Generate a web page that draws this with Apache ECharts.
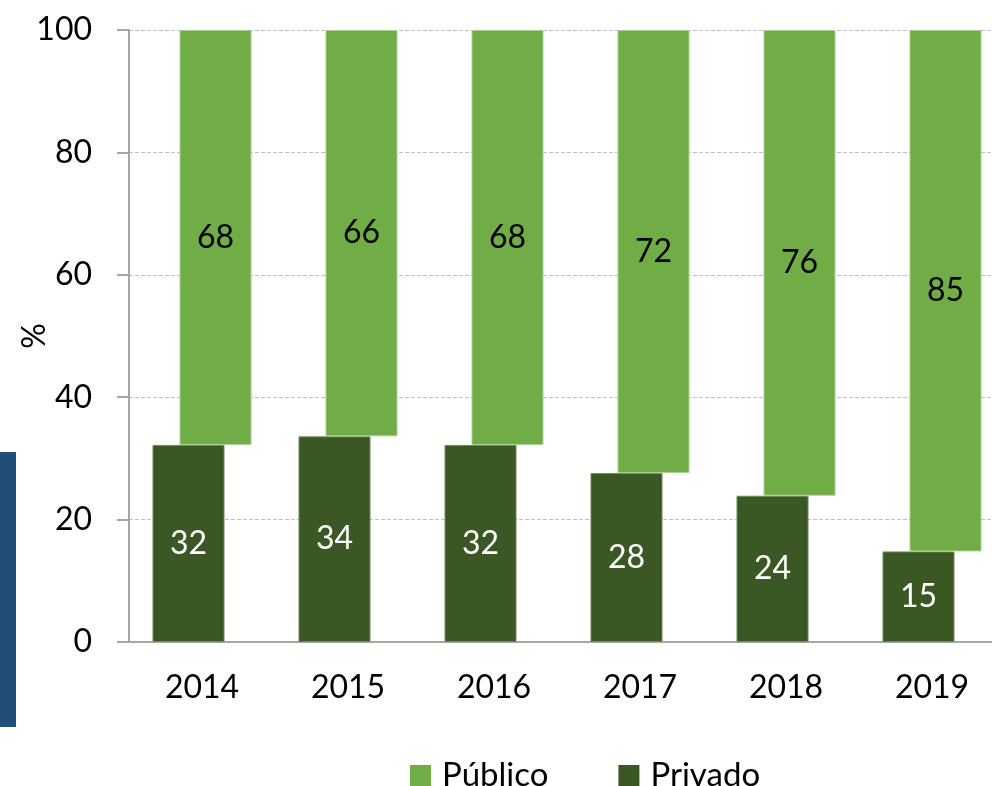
<!DOCTYPE html>
<html>
<head>
<meta charset="utf-8">
<script src="https://cdn.jsdelivr.net/npm/echarts@6/dist/echarts.min.js"></script>
<style>
  html, body { margin: 0; padding: 0; background: #fff; }
  #chart { width: 992px; height: 786px; }
</style>
</head>
<body>
<div id="chart"></div>
<script>
// datos del gráfico
var years = ['2014', '2015', '2016', '2017', '2018', '2019'];
var privado = [32.2, 33.6, 32.2, 27.6, 23.9, 14.8];
var publico = [67.8, 66.4, 67.8, 72.4, 76.1, 85.2];
var yTicks = [0, 20, 40, 60, 80, 100];

var FONT = 'Lato';
var chart = echarts.init(document.getElementById('chart'));

chart.setOption({
  animation: false,
  textStyle: { fontFamily: FONT },
  grid: { left: 129, width: 876, top: 30, bottom: 144, outerBoundsMode: 'none', containLabel: false },
  // franja azul del borde izquierdo
  graphic: [{
    type: 'rect',
    shape: { x: 0, y: 452, width: 16, height: 275 },
    style: { fill: '#1f4e79' }
  }],
  legend: {
    data: ['Público', 'Privado'],
    left: 405,
    top: 754,
    itemWidth: 21,
    itemHeight: 21,
    itemGap: 70,
    icon: 'rect',
    itemStyle: { borderWidth: 0 },
    textStyle: { fontFamily: FONT, fontSize: 33, color: '#000', padding: [0, 0, 0, 6] }
  },
  xAxis: {
    type: 'category',
    data: years,
    axisLine: { lineStyle: { color: '#a6a6a6', width: 2 } },
    axisTick: { length: 11, lineStyle: { color: '#a6a6a6', width: 2 } },
    axisLabel: { fontFamily: FONT, fontSize: 32, color: '#000', margin: 30 }
  },
  yAxis: {
    type: 'value',
    min: yTicks[0],
    max: yTicks[yTicks.length - 1],
    interval: 20,
    name: '%',
    nameLocation: 'middle',
    nameRotate: 90,
    nameGap: 78,
    nameMoveOverlap: false,
    nameTextStyle: { fontFamily: FONT, fontSize: 32, color: '#000' },
    axisLine: { show: true, lineStyle: { color: '#a6a6a6', width: 2 } },
    axisTick: { show: true, length: 12, inside: false, lineStyle: { color: '#a6a6a6', width: 2 } },
    axisLabel: { fontFamily: FONT, fontSize: 32, color: '#000', margin: 37 },
    splitLine: { lineStyle: { color: '#c0c0c0', type: 'dashed', width: 1 } }
  },
  series: [
    {
      name: 'Privado',
      type: 'bar',
      stack: 'priv',
      data: privado,
      barWidth: 72,
      barGap: '-62.5%',
      itemStyle: { color: '#3b5723', borderColor: '#6f8a5c', borderWidth: 1 },
      label: {
        show: true,
        position: 'inside',
        color: '#fff',
        fontFamily: FONT,
        fontSize: 32,
        formatter: function (p) { return Math.round(p.value); }
      }
    },
    {
      name: 'base',
      type: 'bar',
      stack: 'pub',
      data: privado,
      barWidth: 72,
      itemStyle: { color: 'rgba(0,0,0,0)' },
      emphasis: { disabled: true },
      silent: true
    },
    {
      name: 'Público',
      type: 'bar',
      stack: 'pub',
      data: publico,
      barWidth: 72,
      itemStyle: { color: '#70ad47', borderColor: '#a9d08e', borderWidth: 1 },
      label: {
        show: true,
        position: 'inside',
        color: '#000',
        fontFamily: FONT,
        fontSize: 32,
        formatter: function (p) { return Math.round(p.value); }
      }
    }
  ]
});
</script>
</body>
</html>
